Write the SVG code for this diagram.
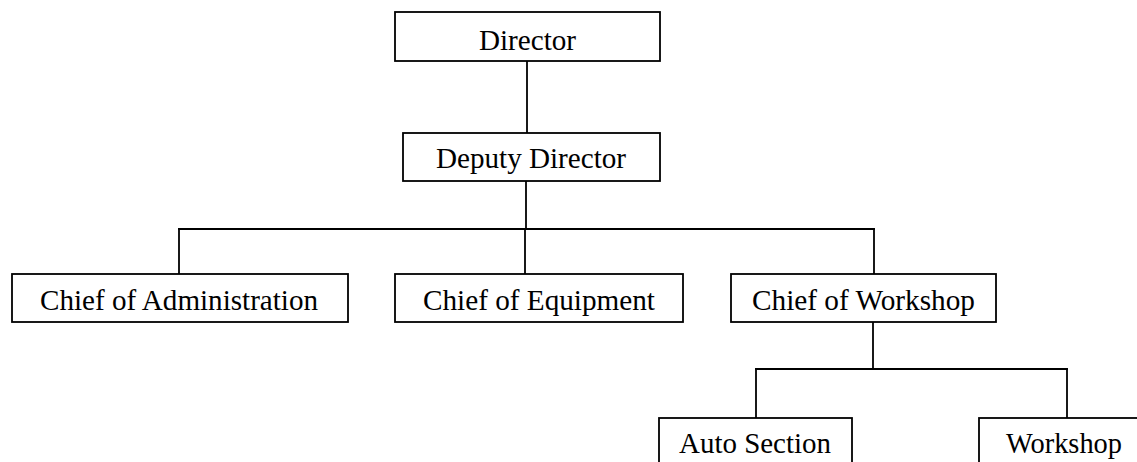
<svg xmlns="http://www.w3.org/2000/svg" width="1137" height="462" viewBox="0 0 1137 462">
  <style>
    .box { fill: #ffffff; stroke: #000000; stroke-width: 1.8; }
    .lbl { font-family: "Liberation Serif", "Times New Roman", serif; font-size: 30px; fill: #000000; text-anchor: middle; }
    .wire { fill: none; stroke: #000000; stroke-width: 1.8; stroke-linecap: square; }
  </style>
  <rect width="1137" height="462" fill="#ffffff"/>

  <g id="connectors">
    <path class="wire" d="M527 61 V133"/>
    <path class="wire" d="M526 181 V229"/>
    <path class="wire" d="M179 229 H874"/>
    <path class="wire" d="M179 229 V274"/>
    <path class="wire" d="M525 229 V274"/>
    <path class="wire" d="M874 229 V274"/>
    <path class="wire" d="M873 322 V369"/>
    <path class="wire" d="M756 369 H1067"/>
    <path class="wire" d="M756 369 V418"/>
    <path class="wire" d="M1067 369 V418"/>
  </g>

  <g id="director">
    <rect class="box" x="395" y="12" width="265" height="49"/>
    <text class="lbl" x="527.5" y="49.5" textLength="97" lengthAdjust="spacingAndGlyphs">Director</text>
  </g>

  <g id="deputy-director">
    <rect class="box" x="403" y="133" width="257" height="48"/>
    <text class="lbl" x="531" y="168" textLength="190" lengthAdjust="spacingAndGlyphs">Deputy Director</text>
  </g>

  <g id="chief-administration">
    <rect class="box" x="12" y="274" width="336" height="48"/>
    <text class="lbl" x="179" y="310" textLength="278" lengthAdjust="spacingAndGlyphs">Chief of Administration</text>
  </g>

  <g id="chief-equipment">
    <rect class="box" x="395" y="274" width="288" height="48"/>
    <text class="lbl" x="539" y="310" textLength="232" lengthAdjust="spacingAndGlyphs">Chief of Equipment</text>
  </g>

  <g id="chief-workshop">
    <rect class="box" x="731" y="274" width="265" height="48"/>
    <text class="lbl" x="863.5" y="310" textLength="223" lengthAdjust="spacingAndGlyphs">Chief of Workshop</text>
  </g>

  <g id="auto-section">
    <rect class="box" x="659" y="418" width="193" height="60"/>
    <text class="lbl" x="755" y="453" textLength="152" lengthAdjust="spacingAndGlyphs">Auto Section</text>
  </g>

  <g id="workshop">
    <rect class="box" x="979" y="418" width="170" height="60"/>
    <text class="lbl" x="1064" y="453" textLength="116" lengthAdjust="spacingAndGlyphs">Workshop</text>
  </g>
</svg>
